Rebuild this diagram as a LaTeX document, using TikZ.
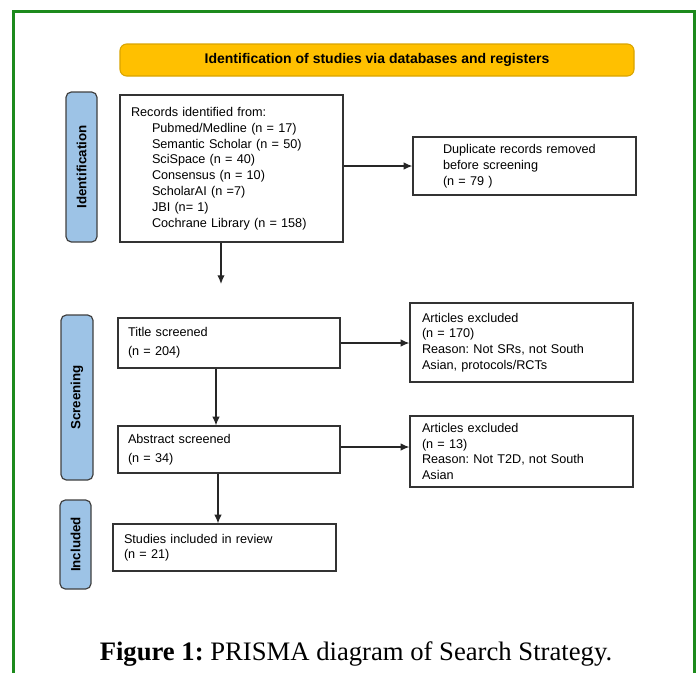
\documentclass[tikz,border=0pt]{standalone}
\usepackage{fontspec}
\setmainfont{Liberation Sans}
\newfontfamily\capfont{Liberation Serif}
\usetikzlibrary{arrows.meta}
\definecolor{sidefill}{HTML}{9DC3E6}
\definecolor{headfill}{HTML}{FFC000}
\definecolor{headline}{HTML}{D9A400}
\definecolor{frame}{HTML}{1C8A1C}
\frenchspacing
\begin{document}
\begin{tikzpicture}[x=0.75pt,y=-0.75pt,
  box/.style={draw=black!80, line width=0.9pt, fill=white, inner ysep=0pt, align=left,
    font=\fontsize{9.5}{11.85}\selectfont},
  side/.style={draw=black!75, line width=0.9pt, fill=sidefill, rounded corners=4pt, inner sep=0pt},
  sidelabel/.style={rotate=90, font=\bfseries\fontsize{10}{12}\selectfont},
  arr/.style={-{Latex[length=6.5pt,width=5.5pt]}, line width=0.9pt, draw=black!85}
]
\useasboundingbox (0,0) rectangle (699,672);
\draw[frame, line width=2.25pt] (13,690) -- (13,11) -- (694,11) -- (694,690);

% header
\node[draw=headline, fill=headfill, line width=0.8pt, rounded corners=5pt,
  minimum width=385.5pt, minimum height=24pt, inner sep=0pt,
  font=\bfseries\fontsize{10.5}{12}\selectfont] (head) at (377,60)
  {Identification of studies via databases and registers};

% side boxes
\node[side, minimum width=23.25pt, minimum height=112.5pt] (idb) at (81.5,167) {};
\node[sidelabel] (idl) at (idb.center) {Identification};
\node[side, minimum width=24pt, minimum height=123.75pt] (scb) at (77,397.5) {};
\node[sidelabel] (scl) at (scb.center) {Screening};
\node[side, minimum width=23.25pt, minimum height=66.75pt] (inb) at (75.5,544.5) {};
\node[sidelabel] (inl) at (inb.center) {Included};

% boxes
\node[box, minimum height=110.25pt, inner xsep=8.25pt, text width=150.75pt] (rec) at (231.5,168.5)
  {Records identified from:\\
   \hspace*{15.75pt}Pubmed/Medline (n = 17)\\
   \hspace*{15.75pt}Semantic Scholar (n = 50)\\
   \hspace*{15.75pt}SciSpace (n = 40)\\
   \hspace*{15.75pt}Consensus (n = 10)\\
   \hspace*{15.75pt}ScholarAI (n =7)\\
   \hspace*{15.75pt}JBI (n= 1)\\
   \hspace*{15.75pt}Cochrane Library (n = 158)};
\node[box, minimum height=43.5pt, inner xsep=22.5pt, text width=122.25pt] (dup) at (524.5,166)
  {Duplicate records removed\\ before screening\\ (n = 79 )};
\node[box, minimum height=37.5pt, inner xsep=7.5pt, text width=151.5pt,
  font=\fontsize{9.5}{14.25}\selectfont] (title) at (229,343)
  {Title screened\\ (n = 204)};
\node[box, minimum height=59.25pt, inner xsep=9pt, text width=149.25pt] (ex1) at (521.5,342.5)
  {Articles excluded\\ (n = 170)\\ Reason: Not SRs, not South\\ Asian, protocols/RCTs};
\node[box, minimum height=35.25pt, inner xsep=7.5pt, text width=151.5pt,
  font=\fontsize{9.5}{14.25}\selectfont] (abs) at (229,449.5)
  {Abstract screened\\ (n = 34)};
\node[box, minimum height=53.25pt, inner xsep=9pt, text width=149.25pt] (ex2) at (521.5,451.5)
  {Articles excluded\\ (n = 13)\\ Reason: Not T2D, not South\\ Asian};
\node[box, minimum height=35.25pt, inner xsep=8.25pt, text width=150.75pt,
  font=\fontsize{9.5}{11.25}\selectfont] (stud) at (224.5,547.5)
  {Studies included in review\\ (n = 21)};

% connectors
\coordinate (c1) at (221,284);
\coordinate (a2) at (216,0);
\coordinate (a3) at (218,0);
\coordinate (a4) at (0,447);
\draw[arr] (rec.east |- dup.west) -- (dup.west);
\draw[arr] (rec.south -| c1) -- (c1);
\draw[arr] (title.east) -- (title.east -| ex1.west);
\draw[arr] (title.south -| a2) -- (abs.north -| a2);
\draw[arr] (abs.east |- a4) -- (ex2.west |- a4);
\draw[arr] (abs.south -| a3) -- (stud.north -| a3);

% caption
\node[font=\capfont\fontsize{20}{24}\selectfont, anchor=base] (cap) at (356,660)
  {\textbf{Figure 1:} PRISMA diagram of Search Strategy.};
\end{tikzpicture}
\end{document}
